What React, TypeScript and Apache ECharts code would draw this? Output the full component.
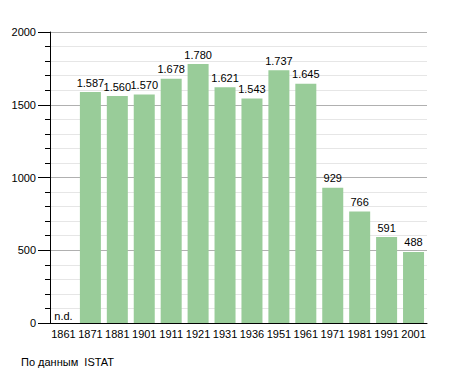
import React, { useEffect, useRef } from "react";
import * as echarts from "echarts";

const categories = ["1861", "1871", "1881", "1901", "1911", "1921", "1931", "1936", "1951", "1961", "1971", "1981", "1991", "2001"];
const values: (number | null)[] = [null, 1587, 1560, 1570, 1678, 1780, 1621, 1543, 1737, 1645, 929, 766, 591, 488];
const yTicks = [0, 500, 1000, 1500, 2000];
const sourceText = "По данным  ISTAT";

const fmt = (v: number) => String(v).replace(/\B(?=(\d{3})+(?!\d))/g, ".");

export default function App() {
  const ref = useRef<HTMLDivElement>(null);
  useEffect(() => {
    const chart = echarts.init(ref.current!, null, { renderer: "svg" });
    const font = "'Liberation Sans', Arial, sans-serif";
    chart.setOption({
      animation: false,
      grid: { left: 50, right: 28, top: 32, bottom: 50 },
      xAxis: {
        type: "category",
        data: categories,
        axisLine: { lineStyle: { color: "#000", width: 1 } },
        axisTick: { show: false },
        axisLabel: { color: "#000", fontSize: 11, fontFamily: font, margin: 5, interval: 0 },
      },
      yAxis: {
        type: "value",
        min: yTicks[0],
        max: yTicks[yTicks.length - 1],
        interval: 500,
        axisLine: { show: true, lineStyle: { color: "#000", width: 1 } },
        axisTick: { show: true, length: 12, lineStyle: { color: "#000" } },
        minorTick: { show: true, splitNumber: 5, length: 5, lineStyle: { color: "#000" } },
        splitLine: { show: true, lineStyle: { color: "#b0b0b0", width: 1 } },
        minorSplitLine: { show: true, lineStyle: { color: "#e6e6e6", width: 1 } },
        axisLabel: {
          color: "#000",
          fontSize: 11,
          fontFamily: font,
          margin: 14,
          formatter: (v: number) => String(v),
        },
      },
      series: [
        {
          type: "bar",
          barCategoryGap: "22%",
          itemStyle: { color: "#99cc99" },
          data: values.map((v) =>
            v === null
              ? { value: 0, label: { formatter: "n.d.", distance: 2 } }
              : { value: v }
          ),
          label: {
            show: true,
            position: "top",
            distance: 4,
            color: "#000",
            fontSize: 11,
            fontFamily: font,
            formatter: (p: any) => fmt(p.value),
          },
        },
      ],
      graphic: [
        {
          type: "text",
          left: 21,
          top: 356,
          style: { text: sourceText, fontSize: 11, fontFamily: font, fill: "#000" },
        },
      ],
    });
    return () => chart.dispose();
  }, []);
  return <div ref={ref} style={{ width: 455, height: 373, position: "absolute", left: 0, top: 0 }} />;
}
